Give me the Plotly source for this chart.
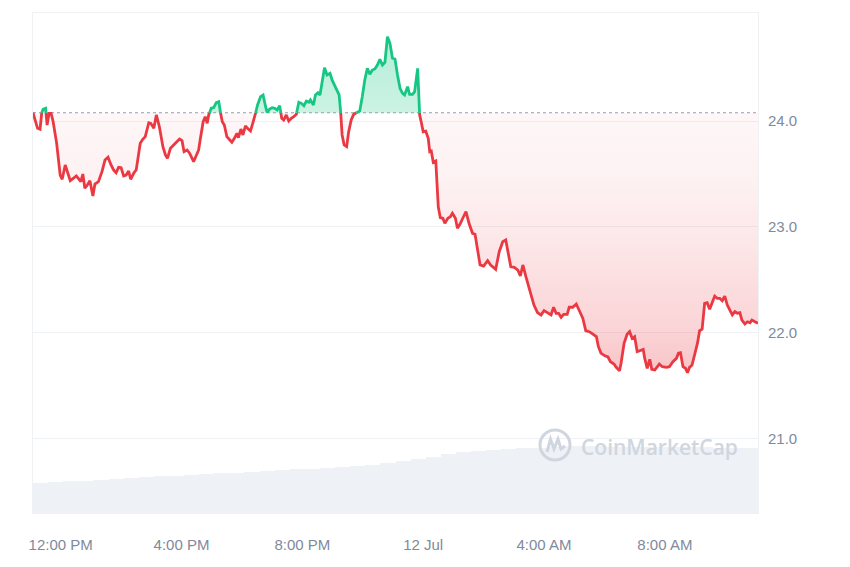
import plotly.graph_objects as go
from datetime import datetime, timedelta

# ---------------- data ----------------
START = "2024-07-11 11:05"

minutes = [0, 9, 14, 17, 20, 25, 28, 32, 36, 40, 47, 54, 58, 64, 69, 74, 80, 86, 90, 95,
           99, 103, 108, 113, 119, 123, 130, 137, 143, 149, 155, 160, 165, 170, 175, 180, 185, 190, 194, 200,
           205, 213, 218, 223, 230, 234, 240, 245, 251, 258, 263, 267, 273, 279, 286, 291, 296, 300, 306, 311,
           319, 324, 329, 332, 338, 342, 346, 349, 354, 359, 364, 369, 372, 376, 380, 385, 391, 395, 400, 405,
           408, 413, 417, 422, 426, 432, 437, 442, 446, 452, 457, 462, 465, 470, 475, 480, 485, 490, 494, 498,
           503, 508, 513, 518, 523, 528, 533, 538, 543, 548, 551, 557, 561, 566, 570, 574, 579, 584, 590, 594,
           601, 608, 611, 614, 618, 623, 627, 632, 637, 644, 649, 654, 659, 664, 669, 674, 679, 684, 689, 694,
           699, 704, 709, 714, 719, 724, 729, 734, 738, 744, 748, 754, 758, 764, 768, 771, 775, 780, 785, 788,
           791, 795, 800, 805, 809, 814, 818, 824, 829, 833, 839, 843, 848, 855, 860, 866, 873, 878, 883, 888,
           895, 903, 909, 919, 926, 933, 939, 949, 956, 963, 968, 973, 979, 986, 995, 1002, 1009, 1015, 1023, 1029,
           1034, 1039, 1044, 1049, 1054, 1061, 1065, 1072, 1079, 1085, 1092, 1098, 1105, 1112, 1119, 1123, 1128, 1136, 1142, 1147,
           1154, 1158, 1165, 1168, 1174, 1180, 1185, 1190, 1195, 1200, 1207, 1212, 1215, 1220, 1225, 1229, 1235, 1240, 1244, 1250,
           1258, 1264, 1271, 1278, 1282, 1286, 1291, 1296, 1300, 1304, 1309, 1314, 1320, 1324, 1329, 1334, 1339, 1344, 1349, 1354,
           1359, 1364, 1369, 1374, 1379, 1384, 1389, 1394, 1399, 1404, 1408, 1414, 1419, 1424, 1428, 1434, 1440]

prices = [24.078, 23.931, 23.922, 24.073, 24.111, 24.120, 23.962, 24.073, 24.073, 23.993, 23.789, 23.489, 23.449, 23.584, 23.505, 23.436, 23.458, 23.480, 23.458, 23.426,
          23.499, 23.364, 23.395, 23.436, 23.291, 23.404, 23.426, 23.521, 23.631, 23.657, 23.584, 23.537, 23.511, 23.562, 23.558, 23.480, 23.489, 23.527, 23.449, 23.506,
          23.537, 23.789, 23.827, 23.852, 23.984, 23.978, 23.931, 24.057, 23.946, 23.757, 23.679, 23.647, 23.742, 23.773, 23.804, 23.830, 23.814, 23.710, 23.726, 23.695,
          23.615, 23.679, 23.726, 23.820, 23.993, 24.041, 23.978, 24.057, 24.120, 24.126, 24.173, 24.182, 24.088, 23.993, 23.962, 23.852, 23.820, 23.799, 23.836, 23.884,
          23.842, 23.924, 23.868, 23.953, 23.931, 23.905, 23.988, 24.073, 24.151, 24.230, 24.246, 24.135, 24.082, 24.113, 24.126, 24.120, 24.104, 24.145, 24.026, 24.009,
          24.057, 24.000, 24.026, 24.041, 24.063, 24.177, 24.167, 24.145, 24.189, 24.177, 24.199, 24.151, 24.246, 24.268, 24.246, 24.356, 24.504, 24.435, 24.451, 24.388,
          24.309, 24.246, 24.088, 23.868, 23.773, 23.757, 23.899, 24.009, 24.063, 24.082, 24.095, 24.230, 24.388, 24.498, 24.442, 24.482, 24.492, 24.529, 24.583, 24.529,
          24.555, 24.797, 24.735, 24.593, 24.586, 24.435, 24.309, 24.262, 24.246, 24.324, 24.252, 24.252, 24.277, 24.498, 24.057, 23.993, 23.899, 23.905, 23.836, 23.710,
          23.716, 23.609, 23.622, 23.187, 23.086, 23.080, 23.033, 23.080, 23.095, 23.127, 23.080, 22.986, 23.023, 23.095, 23.144, 23.033, 22.938, 22.929, 22.780, 22.639,
          22.629, 22.679, 22.639, 22.598, 22.764, 22.859, 22.875, 22.622, 22.617, 22.591, 22.535, 22.639, 22.528, 22.418, 22.260, 22.188, 22.166, 22.207, 22.188, 22.166,
          22.239, 22.182, 22.182, 22.144, 22.172, 22.172, 22.239, 22.239, 22.270, 22.213, 22.135, 22.017, 22.008, 21.986, 21.961, 21.866, 21.806, 21.780, 21.769, 21.724,
          21.702, 21.674, 21.639, 21.709, 21.898, 21.983, 22.008, 21.945, 21.961, 21.819, 21.828, 21.841, 21.756, 21.662, 21.747, 21.652, 21.646, 21.677, 21.702, 21.677,
          21.671, 21.677, 21.724, 21.756, 21.804, 21.809, 21.677, 21.662, 21.620, 21.671, 21.693, 21.788, 21.904, 22.017, 22.031, 22.276, 22.282, 22.220, 22.292, 22.345,
          22.324, 22.324, 22.301, 22.345, 22.260, 22.213, 22.166, 22.197, 22.182, 22.188, 22.118, 22.081, 22.102, 22.093, 22.118, 22.102, 22.087]

# 24h volume, one bar per 30 minutes (arbitrary units, read as relative heights)
volume = [44.4, 45.9, 47.3, 48.3, 49.4, 50.4, 51.9, 53.4, 54.9, 56.1, 57.2, 58.2, 59.4, 60.5, 61.7, 63.2,
          64.2, 65.3, 66.2, 67.8, 69.2, 70.2, 72.6, 75.3, 78.2, 81.3, 84.6, 87.9, 90.9, 92.7, 94.2, 95.7,
          96.9, 98.1, 99.3, 99.8, 99.8, 99.8, 99.6, 99.5, 99.2, 99.0, 98.7, 98.6, 98.3, 98.1, 97.8, 97.7]
VOL_STEP_MIN = 30

tick_times = ["2024-07-11 12:00", "2024-07-11 16:00", "2024-07-11 20:00",
              "2024-07-12 00:00", "2024-07-12 04:00", "2024-07-12 08:00"]
tick_labels = ["12:00 PM", "4:00 PM", "8:00 PM", "12 Jul", "4:00 AM", "8:00 AM"]
price_ticks = [21, 22, 23, 24]

# ---------------- styling ----------------
RED = "#ea3943"
GREEN = "#16c784"
LABEL = "#808a9d"
GRID = "#eff2f5"
FONT = "Liberation Sans, Arial, sans-serif"

t0 = datetime.strptime(START, "%Y-%m-%d %H:%M")
base = prices[0]

# insert crossing points with the reference (opening) price so colours switch exactly there
T, P = [], []
for i, (m, p) in enumerate(zip(minutes, prices)):
    if i > 0:
        m0, p0 = minutes[i - 1], prices[i - 1]
        if (p0 - base) * (p - base) < 0:
            f = (base - p0) / (p - p0)
            T.append(m0 + f * (m - m0))
            P.append(base)
    T.append(m)
    P.append(p)
times = [t0 + timedelta(minutes=m) for m in T]

red_line = [p if p <= base else None for p in P]
green_line = [p if p >= base else None for p in P]
red_fill = [min(p, base) for p in P]
green_fill = [max(p, base) for p in P]
base_line = [base] * len(P)

vol_times = [t0 + timedelta(minutes=VOL_STEP_MIN * (i + 0.5)) for i in range(len(volume))]

fig = go.Figure()

# volume bars (hidden secondary axis)
fig.add_trace(go.Bar(x=vol_times, y=volume, yaxis="y2", width=VOL_STEP_MIN * 60 * 1000,
                     marker=dict(color="#eef1f5", line=dict(width=0)), hoverinfo="skip"))

# red area below opening price
fig.add_trace(go.Scatter(x=times, y=base_line, mode="lines", line=dict(width=0), hoverinfo="skip"))
fig.add_trace(go.Scatter(x=times, y=red_fill, mode="lines", line=dict(width=0), fill="tonexty",
                         fillgradient=dict(type="vertical",
                                           colorscale=[[0.0, "rgba(234,57,67,0.30)"],
                                                       [0.155, "rgba(234,57,67,0.22)"],
                                                       [0.51, "rgba(234,57,67,0.12)"],
                                                       [0.74, "rgba(234,57,67,0.07)"],
                                                       [1.0, "rgba(234,57,67,0.04)"]]),
                         hoverinfo="skip"))
# green area above opening price
fig.add_trace(go.Scatter(x=times, y=base_line, mode="lines", line=dict(width=0), hoverinfo="skip"))
fig.add_trace(go.Scatter(x=times, y=green_fill, mode="lines", line=dict(width=0), fill="tonexty",
                         fillgradient=dict(type="vertical",
                                           colorscale=[[0.0, "rgba(22,199,132,0.22)"],
                                                       [1.0, "rgba(22,199,132,0.32)"]]),
                         hoverinfo="skip"))

# dotted reference line
fig.add_trace(go.Scatter(x=[times[0], times[-1]], y=[base, base], mode="lines",
                         line=dict(color="#959dad", width=1.2, dash="dot"), hoverinfo="skip"))

# price lines
fig.add_trace(go.Scatter(x=times, y=red_line, mode="lines", connectgaps=False,
                         line=dict(color=RED, width=2.8)))
fig.add_trace(go.Scatter(x=times, y=green_line, mode="lines", connectgaps=False,
                         line=dict(color=GREEN, width=2.8)))

# watermark (decoration, paper coordinates)
def px(x):
    return (x - 33) / 725.0

def py(y):
    return (513 - y) / 500.0

WM = "#d0d6e0"
fig.add_shape(type="circle", xref="paper", yref="paper",
              x0=px(540), x1=px(570), y0=py(460), y1=py(430),
              line=dict(color=WM, width=3), layer="above")
m_path = "M {} {} L {} {} L {} {} L {} {} L {} {} L {} {}".format(
    px(547), py(452), px(550.5), py(439), px(554), py(449),
    px(558), py(439), px(561), py(449), px(565), py(446))
fig.add_shape(type="path", xref="paper", yref="paper", path=m_path,
              line=dict(color=WM, width=3), layer="above")
fig.add_annotation(text="CoinMarketCap", xref="paper", yref="paper",
                   x=px(659), y=py(447), xanchor="center", yanchor="middle", showarrow=False,
                   font=dict(family="Open Sans, Arial", size=21, color=WM, weight=600))

# the page body adds an 8px offset, so the figure is sized 842x559 and margins compensate
fig.update_layout(
    width=842, height=559,
    margin=dict(l=25, r=92, t=5, b=54),
    plot_bgcolor="white", paper_bgcolor="white",
    showlegend=False, bargap=0,
    xaxis=dict(type="date", range=[times[0], times[-1]],
               tickvals=tick_times, ticktext=tick_labels,
               showgrid=False, zeroline=False,
               showline=True, mirror=True, linecolor=GRID, linewidth=1,
               ticks="outside", ticklen=18, tickcolor="rgba(0,0,0,0)",
               tickfont=dict(family=FONT, size=15, color=LABEL)),
    yaxis=dict(range=[20.294, 25.021], side="right",
               tickvals=price_ticks, tickformat=".1f",
               showgrid=True, gridcolor=GRID, gridwidth=1, zeroline=False,
               showline=True, mirror=True, linecolor=GRID, linewidth=1,
               ticks="outside", ticklen=6, tickcolor="rgba(0,0,0,0)",
               tickfont=dict(family=FONT, size=15, color=LABEL)),
    yaxis2=dict(overlaying="y", range=[0, 750], visible=False),
)

fig.write_html("out.html")
